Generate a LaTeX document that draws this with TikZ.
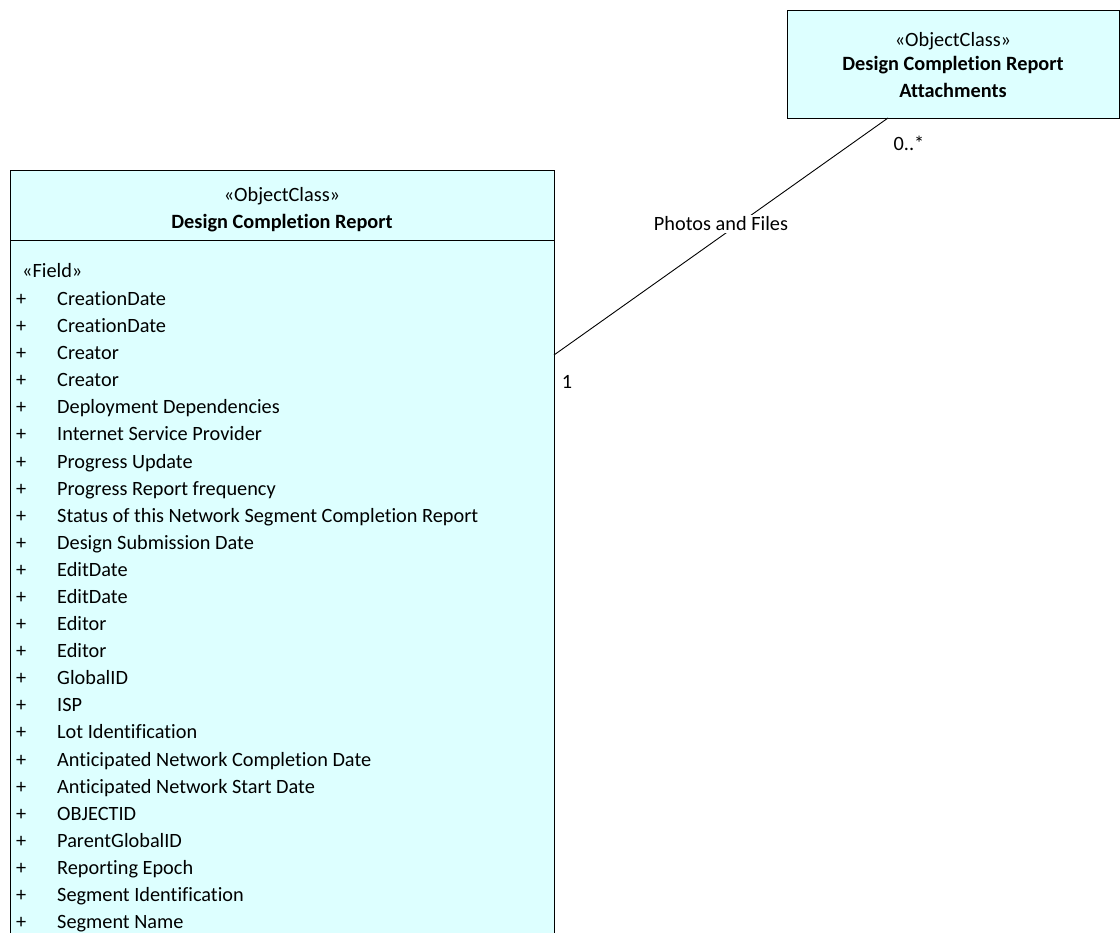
\documentclass[tikz,border=0pt]{standalone}
\usepackage{fontspec}
\setmainfont{Carlito}[Ligatures=NoCommon]
\definecolor{clsfill}{RGB}{221,255,255}
\begin{document}
\begin{tikzpicture}[x=1pt,y=-1pt,
  txt/.style={inner sep=0pt,font=\fontsize{20.3}{24}\selectfont},
  field/.style={txt,anchor=base west},
  box/.style={draw=black,fill=clsfill,line width=0.9pt}]
\useasboundingbox (0,0) rectangle (1120,933);
\clip (0,0) rectangle (1120,933);
% main class
\draw[box] (10,170) rectangle (554,945);
\draw[line width=0.9pt] (10,240) -- (554,240);
\coordinate (mainR) at (554,355);
\node[txt,anchor=base] (mst) at (282,202) {«ObjectClass»};
\node[txt,anchor=base,font=\fontsize{20.3}{24}\selectfont\bfseries] (mname) at (282,229) {Design Completion Report};
\node[field] (fld) at (22,278) {«Field»};
\foreach \t [count=\i from 0] in {CreationDate,CreationDate,Creator,Creator,Deployment Dependencies,Internet Service Provider,Progress Update,Progress Report frequency,Status of this Network Segment Completion Report,Design Submission Date,EditDate,EditDate,Editor,Editor,GlobalID,ISP,Lot Identification,Anticipated Network Completion Date,Anticipated Network Start  Date,OBJECTID,ParentGlobalID,Reporting Epoch,Segment Identification,Segment Name}{
  \node[field] (p\i) at (16,305.5+27.09*\i) {+};
  \node[field] (f\i) at (57,305.5+27.09*\i) {\t};
}
% attachments class
\draw[box] (787,10) rectangle (1119,118);
\node[txt,anchor=base] (ast) at (953,47) {«ObjectClass»};
\node[txt,anchor=base,font=\fontsize{20.3}{24}\selectfont\bfseries] (aname) at (953,71) {Design Completion Report};
\node[txt,anchor=base,font=\fontsize{20.3}{24}\selectfont\bfseries] (aname2) at (953,98) {Attachments};
\coordinate (attB) at (888,118);
% association
\draw[line width=0.9pt] (mainR) -- (attB);
\node[txt,fill=white,inner sep=2pt,anchor=base] (lbl) at (721,231) {Photos and Files};
\node[txt,anchor=base] (m1) at (567,389) {1};
\node[txt,anchor=base] (m2) at (909,151) {0..*};
\end{tikzpicture}
\end{document}
